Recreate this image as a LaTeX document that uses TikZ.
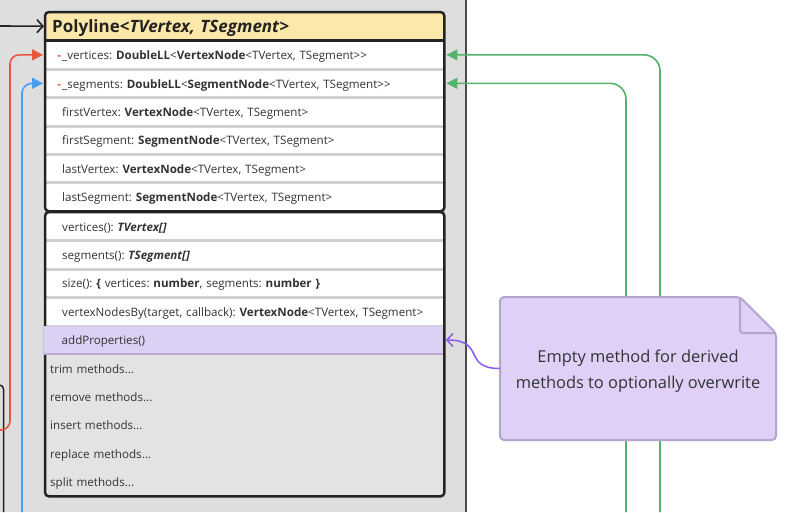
\documentclass[tikz,border=0pt]{standalone}
\usepackage{fontspec}
\setmainfont{Open Sans}
\frenchspacing
\usetikzlibrary{arrows.meta}

% colours
\definecolor{panel}{HTML}{DEDEDE}
\definecolor{panelin}{HTML}{E3E3E3}
\definecolor{panelrule}{HTML}{4A4A4A}
\definecolor{headfill}{HTML}{FCE8A9}
\definecolor{sepgray}{HTML}{CFCFCF}
\definecolor{ink}{HTML}{232323}
\definecolor{txt}{HTML}{333333}
\definecolor{hilite}{HTML}{DDD0F5}
\definecolor{hiliteline}{HTML}{B9A9D3}
\definecolor{notefill}{HTML}{DFD0F8}
\definecolor{noteline}{HTML}{B5A5CB}
\definecolor{redarr}{HTML}{E8573A}
\definecolor{bluearr}{HTML}{4A9EF0}
\definecolor{greenarr}{HTML}{55B26B}
\definecolor{purplearr}{HTML}{8B5CF0}

\tikzset{
  member/.style={anchor=north west, minimum height=28.4pt, inner xsep=17pt, inner ysep=0pt,
    text width=365pt, align=left, text=txt, text height=11pt, text depth=1.5pt,
    font=\fontsize{11.6}{13}\selectfont},
  extra/.style={member, inner xsep=5pt, text width=389pt},
  sep/.style={sepgray, line width=3pt},
  frame/.style={ink, line width=2.5pt, rounded corners=4pt},
  link/.style={line width=1.6pt, rounded corners=12pt, -{Triangle[length=11pt,width=11pt]}, shorten >=2pt},
  barb/.style={line width=1.6pt, -{Straight Barb[length=6pt,width=13pt]}},
}

\begin{document}
\begin{tikzpicture}[x=1pt, y=-1pt]
  \useasboundingbox (0,0) rectangle (802,512);
  \fill[white] (0,0) rectangle (802,512);
  \fill[panel] (0,0) rectangle (466,512);
  \draw[panelrule, line width=1.2pt] (466,0) -- (466,512);
  % edge of the neighbouring box
  \draw[ink, line width=1.5pt, rounded corners=4pt] (0,385) -| (3.5,512);

  % class header
  \node[anchor=north west, minimum width=399pt, minimum height=28pt, inner xsep=7pt, inner ysep=0pt,
    text width=385pt, text height=14pt, text depth=1.4pt, align=left, fill=headfill,
    rounded corners=4pt, text=ink, font=\fontsize{17}{18}\selectfont\bfseries]
    (head) at (45,12) {Polyline<\textit{TVertex, TSegment}>};

  % fields
  \foreach \m [count=\i from 0] in {
      {\leavevmode\llap{\textcolor{redarr}{\textbf{-}}\hspace{1pt}}\_vertices: \textbf{DoubleLL}<\textbf{VertexNode}<TVertex, TSegment>{}>},
      {\leavevmode\llap{\textcolor{redarr}{\textbf{-}}\hspace{1pt}}\_segments: \textbf{DoubleLL}<\textbf{SegmentNode}<TVertex, TSegment>{}>},
      {firstVertex: \textbf{VertexNode}<TVertex, TSegment>},
      {firstSegment: \textbf{SegmentNode}<TVertex, TSegment>},
      {lastVertex: \textbf{VertexNode}<TVertex, TSegment>},
      {lastSegment: \textbf{SegmentNode}<TVertex, TSegment>}}
    \node[member, fill=white] (attr\i) at (45,40.5+28.4*\i) {\m};
  \foreach \i in {0,...,4}
    \draw[sep] (attr\i.south west) -- (attr\i.south east);

  % methods
  \fill[panelin] (45,212) rectangle (444,496);
  \foreach \m [count=\i from 0] in {
      {vertices(): \textbf{\textit{TVertex[]}}},
      {segments(): \textbf{\textit{TSegment[]}}},
      {size(): \textbf{\{} vertices: \textbf{number}, segments: \textbf{number} \textbf{\}}},
      {vertexNodesBy(target, callback): \textbf{VertexNode}<TVertex, TSegment>}}
    \node[member, fill=white] (meth\i) at (45,212+28.4*\i) {\m};
  \foreach \i in {0,...,3}
    \draw[sep] (meth\i.south west) -- (meth\i.south east);
  \foreach \m [count=\i from 5] in {trim,remove,insert,replace,split}
    \node[extra] (meth\i) at (45,212+28.4*\i) {\m{} methods...};

  \draw[frame] (head.north west) rectangle (attr5.south east);
  \draw[ink, line width=2.5pt] (head.south west) -- (head.south east);
  \draw[frame] (meth0.north west) rectangle (meth9.south east);

  \node[member, fill=hilite, xshift=-1.5pt, inner xsep=18pt, text width=363pt] (meth4)
    at (45,212+28.4*4) {addProperties()};
  \draw[hiliteline, line width=2pt] (meth4.south west) -- (meth4.south east);

  % connectors
  \coordinate (inlet) at (0,26);
  \draw[barb, ink, shorten >=1pt] (inlet) -- (head.west);
  \coordinate (redfoot) at (0,430);
  \coordinate (redlane) at (10,0);
  \draw[link, redarr, rounded corners=9pt] (redfoot) -| (redlane |- attr0.west) -- (attr0.west);
  \coordinate (bluefoot) at (22,512);
  \draw[link, bluearr, rounded corners=10pt] (bluefoot) |- (attr1.west);
  \coordinate (greenfootA) at (660,512);
  \coordinate (greenfootB) at (626,512);
  \draw[link, greenarr, rounded corners=16pt] (greenfootA) |- (attr0.east);
  \draw[link, greenarr, rounded corners=16pt] (greenfootB) |- (attr1.east);

  % note
  \draw[noteline, fill=notefill, line width=2pt, rounded corners=4pt]
    (500,368) -- (500,297) -- (740,297) -- (776,333) -- (776,440) -- (500,440) -- cycle;
  \draw[noteline, line width=2pt, rounded corners=3pt] (740,297) |- (776,333);
  \node[minimum width=276pt, minimum height=143pt, align=center, text=txt, yshift=-3pt,
    font=\fontsize{16.4}{26}\selectfont] (note) at (638,368.5)
    {Empty method for derived\\methods to optionally overwrite};
  \draw[barb, purplearr, line width=1.5pt, shorten >=3pt]
    ([yshift=3pt]note.west) .. controls (462,368.5) and (486,340) .. (meth4.east);
\end{tikzpicture}
\end{document}
